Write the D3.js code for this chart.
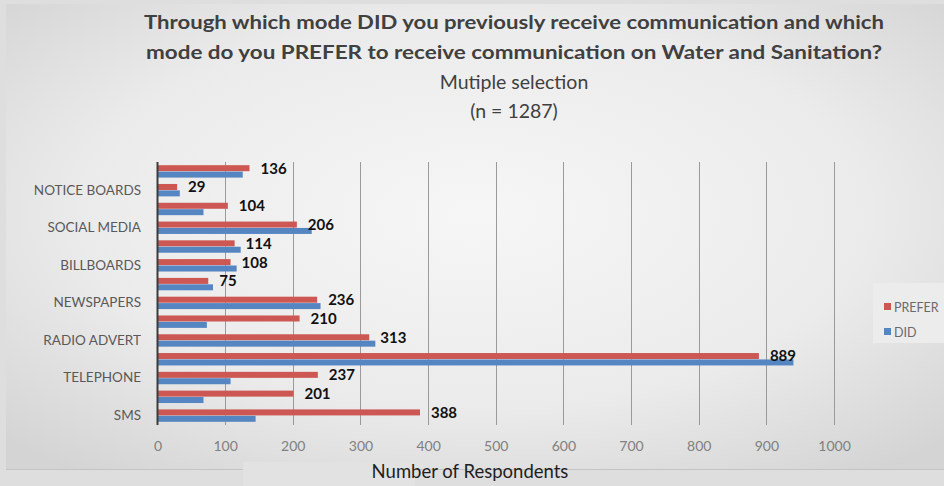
<!DOCTYPE html>
<html>
<head>
<meta charset="utf-8">
<script src="https://cdn.jsdelivr.net/npm/d3@7"></script>
<style>
  html, body { margin: 0; padding: 0; background: #ffffff; }
  svg { display: block; }
</style>
</head>
<body>
<svg id="chart" width="944" height="486"></svg>
<script>
// Communication channels, top to bottom (only every other name is shown on the axis)
const categories = [
  "EMAIL", "NOTICE BOARDS", "WEBSITE", "SOCIAL MEDIA", "POSTERS", "BILLBOARDS",
  "BILL INSERTS", "NEWSPAPERS", "COMMUNITY MEETINGS", "RADIO ADVERT",
  "TELEVISION", "TELEPHONE", "LOUDHAILER", "SMS"
];
const shownLabels = ["NOTICE BOARDS", "SOCIAL MEDIA", "BILLBOARDS", "NEWSPAPERS",
  "RADIO ADVERT", "TELEPHONE", "SMS"];
const seriesNames = ["PREFER", "DID"];
const preferValues = [136, 29, 104, 206, 114, 108, 75, 236, 210, 313, 889, 237, 201, 388];
const didValues    = [126, 33, 68, 228, 123, 117, 82, 241, 73, 322, 940, 108, 68, 145];
const xTicks = [0, 100, 200, 300, 400, 500, 600, 700, 800, 900, 1000];
const titleLines = [
  "Through which mode DID you previously receive communication  and which",
  "mode do you PREFER to receive communication  on Water and Sanitation?"
];
const subtitleLines = ["Mutiple selection", "(n = 1287)"];
const xAxisTitle = "Number of Respondents";

const colors = { PREFER: "#cd5753", DID: "#5686c2" };
const FONT = "Lato, 'Open Sans', sans-serif";

const svg = d3.select("#chart");
const W = 944, H = 486;

// Background
const defs = svg.append("defs");
const grad = defs.append("radialGradient").attr("id", "bg")
  .attr("cx", "50%").attr("cy", "45%").attr("r", "70%");
grad.append("stop").attr("offset", "0%").attr("stop-color", "#f6f6f6");
grad.append("stop").attr("offset", "60%").attr("stop-color", "#ebebeb");
grad.append("stop").attr("offset", "100%").attr("stop-color", "#d4d4d4");

svg.append("rect").attr("x", 0).attr("y", 0).attr("width", W).attr("height", H).attr("fill", "#dedede");
svg.append("rect").attr("x", 6).attr("y", 4).attr("width", W - 6).attr("height", 465)
  .attr("fill", "url(#bg)");
// Bottom border, broken around the axis title
svg.append("g").selectAll("line").data([[6, 243], [415, W]]).join("line")
  .attr("x1", d => d[0]).attr("x2", d => d[1]).attr("y1", 469.5).attr("y2", 469.5)
  .attr("stroke", "#c4c4c4");
svg.append("rect").attr("x", 243).attr("y", 462).attr("width", 172).attr("height", 24).attr("fill", "#e2e2e2");

// Scales
const x = d3.scaleLinear().domain([0, 1000]).range([157.5, 834]);
const y = d3.scaleBand().domain(categories).range([162, 425]).paddingInner(0.34).paddingOuter(0.17);
const ySub = d3.scaleBand().domain(seriesNames).range([0, y.bandwidth()]).paddingInner(0.06);

const plotTop = 162, plotBottom = 425;

// Vertical gridlines
svg.append("g").selectAll("line").data(xTicks.filter(d => d > 0)).join("line")
  .attr("x1", d => Math.round(x(d)) + 0.5).attr("x2", d => Math.round(x(d)) + 0.5)
  .attr("y1", plotTop).attr("y2", plotBottom)
  .attr("stroke", "#9a9a9a").attr("stroke-width", 1);

// X axis tick labels
const xAxis = d3.axisBottom(x).tickValues(xTicks).tickSize(0).tickPadding(0).tickFormat(d3.format("d"));
const gx = svg.append("g").attr("transform", `translate(0, 441)`).call(xAxis);
gx.select(".domain").remove();
gx.selectAll("text").attr("font-family", FONT).attr("font-size", 14).attr("fill", "#808080");

// Y axis labels
const yAxis = d3.axisLeft(y).tickSize(0).tickPadding(16)
  .tickFormat(d => shownLabels.includes(d) ? d : "");
const gy = svg.append("g").attr("transform", `translate(157, 0)`).call(yAxis);
gy.select(".domain").remove();
gy.selectAll("text").attr("font-family", FONT).attr("font-size", 13.5).attr("fill", "#595959");

// Bars
const rows = categories.map((c, i) => ({ cat: c, PREFER: preferValues[i], DID: didValues[i] }));
const groups = svg.append("g").selectAll("g").data(rows).join("g")
  .attr("transform", d => `translate(0, ${y(d.cat)})`);
groups.selectAll("rect").data(d => seriesNames.map(s => ({ s, v: d[s] }))).join("rect")
  .attr("x", x(0)).attr("y", d => ySub(d.s))
  .attr("width", d => x(d.v) - x(0)).attr("height", ySub.bandwidth())
  .attr("fill", d => colors[d.s]);

// Value labels for the PREFER series
groups.append("text")
  .attr("x", d => x(d.PREFER) + 11)
  .attr("y", d => ySub("PREFER") + ySub.bandwidth() / 2)
  .attr("dy", "0.36em")
  .attr("font-family", FONT).attr("font-weight", 700).attr("font-size", 15)
  .attr("fill", "#111111")
  .text(d => d.PREFER);

// Category axis line
svg.append("line").attr("x1", 157.5).attr("x2", 157.5).attr("y1", plotTop).attr("y2", plotBottom)
  .attr("stroke", "#3c3c3c").attr("stroke-width", 2);

// Titles
const cx = 514;
svg.append("g").selectAll("text").data(titleLines).join("text")
  .attr("x", cx).attr("y", (d, i) => 29 + i * 30)
  .attr("text-anchor", "middle")
  .attr("font-family", FONT).attr("font-weight", 700).attr("font-size", 19)
  .attr("fill", "#404040")
  .attr("textLength", (d, i) => i === 0 ? 740 : 736).attr("lengthAdjust", "spacingAndGlyphs")
  .text(d => d);
svg.append("g").selectAll("text").data(subtitleLines).join("text")
  .attr("x", cx).attr("y", (d, i) => 89 + i * 29)
  .attr("text-anchor", "middle")
  .attr("font-family", FONT).attr("font-weight", 400).attr("font-size", 19.5)
  .attr("fill", "#404040")
  .text(d => d);

// Axis title
svg.append("text").attr("x", 470).attr("y", 478).attr("text-anchor", "middle")
  .attr("font-family", FONT).attr("font-size", 18.5).attr("fill", "#1e1e1e")
  .text(xAxisTitle);

// Legend
const lg = svg.append("g").attr("transform", "translate(873, 283)");
lg.append("rect").attr("width", 80).attr("height", 60).attr("fill", "#ececec");
const items = lg.selectAll("g").data(seriesNames).join("g")
  .attr("transform", (d, i) => `translate(11, ${24 + i * 25})`);
items.append("rect").attr("x", 0).attr("y", -4).attr("width", 7).attr("height", 7)
  .attr("fill", d => colors[d]);
items.append("text").attr("x", 10).attr("y", 0).attr("dy", "0.36em")
  .attr("font-family", FONT).attr("font-size", 12.5).attr("fill", "#6a6a6a")
  .text(d => d);
</script>
</body>
</html>
